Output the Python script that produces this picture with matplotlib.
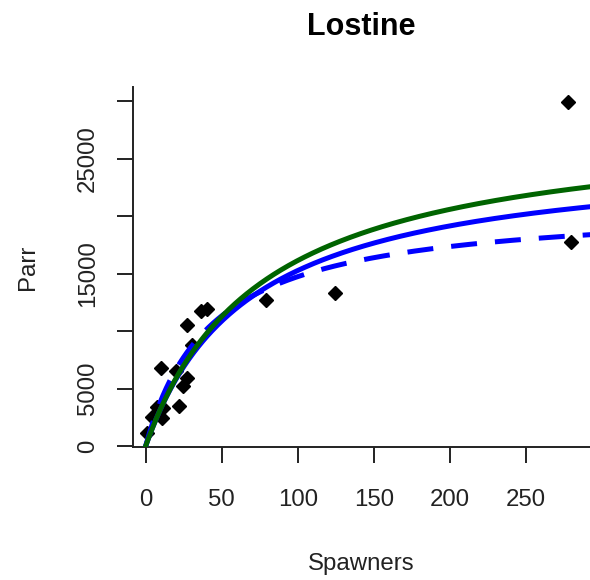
import numpy as np
import matplotlib
matplotlib.use("Agg")
import matplotlib.pyplot as plt

# Observed data (spawners, parr)
spawners = [0.7, 3.9, 7.2, 10.1, 10.5, 11.6, 19.9, 22.1, 24.7, 27.4, 27.4, 30.2,
            36.4, 40.1, 79.0, 124.5, 277.4, 279.6]
parr = [1100, 2545, 3410, 6830, 2400, 3270, 6540, 3470, 5210, 5880, 10560, 8770,
        11745, 11950, 12670, 13310, 29975, 17800]

# Beverton-Holt curve parameters: R = Rmax*S/(k+S)
green_rmax, green_k = 28460, 76.2
blue_rmax, blue_k = 25690, 68.1
dash_rmax, dash_k = 21120, 43.2

title = "Lostine"
xlabel = "Spawners"
ylabel = "Parr"
xticks = [0, 50, 100, 150, 200, 250]
yticks = [0, 5000, 10000, 15000, 20000, 25000, 30000]
ytick_labels = ["0", "5000", "", "15000", "", "25000", ""]

plt.rcParams['font.family'] = ['Liberation Sans', 'DejaVu Sans']

fig = plt.figure(figsize=(5.9, 5.8), dpi=100)
ax = fig.add_axes([133/590, 1-447/580, 1-133/590, (447-87)/580])

ax.plot(spawners, parr, linestyle='none', marker='D', ms=7, color='black', zorder=2)

S = np.linspace(0, 300, 400)
ax.plot(S, dash_rmax*S/(dash_k+S), color='#0000FF', lw=3.6, ls=(0, (5.2, 3.6)),
        zorder=3, solid_capstyle='butt', dash_capstyle='butt')
ax.plot(S, blue_rmax*S/(blue_k+S), color='#0000FF', lw=3.6, zorder=4)
ax.plot(S, green_rmax*S/(green_k+S), color='#006400', lw=3.6, zorder=5)

ax.set_xlim(-8.35, 292.1)
ax.set_ylim(-90, 31260)

for s in ['top', 'right']:
    ax.spines[s].set_visible(False)
for s in ['left', 'bottom']:
    ax.spines[s].set_linewidth(1.4)
    ax.spines[s].set_color('#222222')

ax.set_xticks(xticks)
ax.set_xticklabels([str(v) for v in xticks])
ax.set_yticks(yticks)
ax.set_yticklabels(ytick_labels, rotation=90, va='center')
ax.tick_params(axis='both', length=11.5, width=1.4, color='#222222',
               labelsize=17.3, labelcolor='#222222')
ax.tick_params(axis='x', pad=19)
ax.tick_params(axis='y', pad=13)

ax.set_xlabel(xlabel, fontsize=17.3, color='#222222', labelpad=30)
ax.set_ylabel(ylabel, fontsize=17.3, color='#222222', labelpad=27)
fig.text(361/590, 1-27/580, title, ha='center', va='center',
         fontsize=22, fontweight='bold')

fig.savefig("out.png", dpi=100)
